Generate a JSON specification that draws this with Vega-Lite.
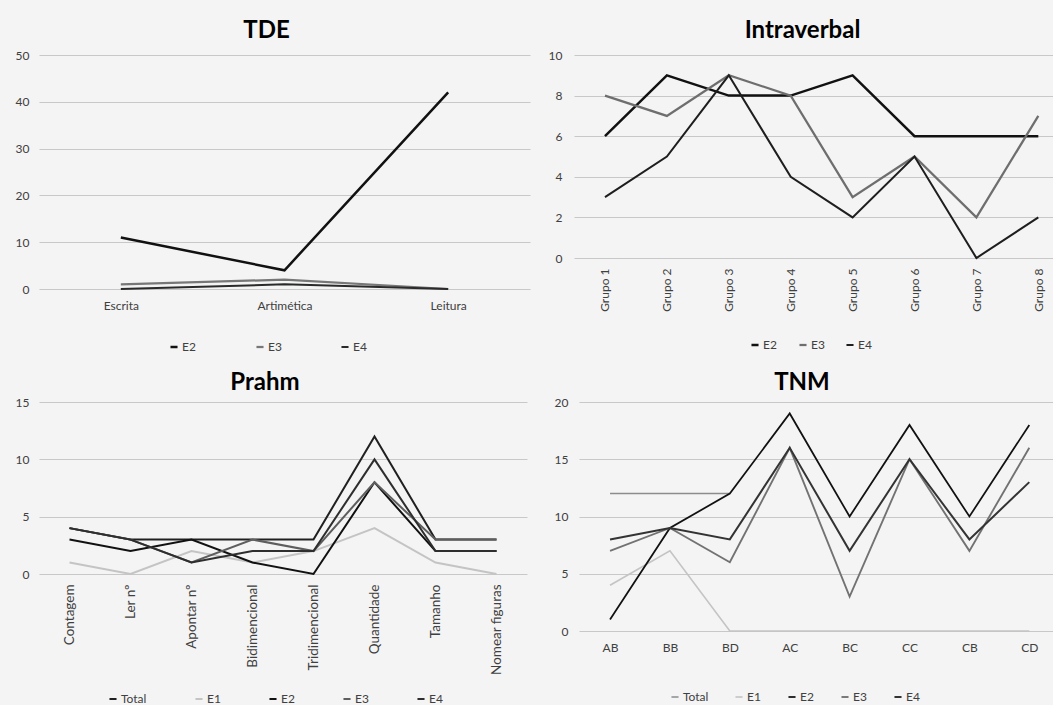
{
  "$schema": "https://vega.github.io/schema/vega-lite/v6.json",
  "background": "#f4f4f4",
  "padding": {"left": 15, "top": 19, "right": 0, "bottom": 0},
  "datasets": {
    "tde": [
      {"cat": "Escrita", "series": "E2", "value": 11},
      {"cat": "Artimética", "series": "E2", "value": 4},
      {"cat": "Leitura", "series": "E2", "value": 42},
      {"cat": "Escrita", "series": "E3", "value": 1},
      {"cat": "Artimética", "series": "E3", "value": 2},
      {"cat": "Leitura", "series": "E3", "value": 0},
      {"cat": "Escrita", "series": "E4", "value": 0},
      {"cat": "Artimética", "series": "E4", "value": 1},
      {"cat": "Leitura", "series": "E4", "value": 0}
    ],
    "intra": [
      {"cat": "Grupo 1", "series": "E2", "value": 6},
      {"cat": "Grupo 2", "series": "E2", "value": 9},
      {"cat": "Grupo 3", "series": "E2", "value": 8},
      {"cat": "Grupo 4", "series": "E2", "value": 8},
      {"cat": "Grupo 5", "series": "E2", "value": 9},
      {"cat": "Grupo 6", "series": "E2", "value": 6},
      {"cat": "Grupo 7", "series": "E2", "value": 6},
      {"cat": "Grupo 8", "series": "E2", "value": 6},
      {"cat": "Grupo 1", "series": "E3", "value": 8},
      {"cat": "Grupo 2", "series": "E3", "value": 7},
      {"cat": "Grupo 3", "series": "E3", "value": 9},
      {"cat": "Grupo 4", "series": "E3", "value": 8},
      {"cat": "Grupo 5", "series": "E3", "value": 3},
      {"cat": "Grupo 6", "series": "E3", "value": 5},
      {"cat": "Grupo 7", "series": "E3", "value": 2},
      {"cat": "Grupo 8", "series": "E3", "value": 7},
      {"cat": "Grupo 1", "series": "E4", "value": 3},
      {"cat": "Grupo 2", "series": "E4", "value": 5},
      {"cat": "Grupo 3", "series": "E4", "value": 9},
      {"cat": "Grupo 4", "series": "E4", "value": 4},
      {"cat": "Grupo 5", "series": "E4", "value": 2},
      {"cat": "Grupo 6", "series": "E4", "value": 5},
      {"cat": "Grupo 7", "series": "E4", "value": 0},
      {"cat": "Grupo 8", "series": "E4", "value": 2}
    ],
    "prahm": [
      {"cat": "Contagem", "series": "Total", "value": 4},
      {"cat": "Ler nº", "series": "Total", "value": 3},
      {"cat": "Apontar nº", "series": "Total", "value": 3},
      {"cat": "Bidimencional", "series": "Total", "value": 3},
      {"cat": "Tridimencional", "series": "Total", "value": 3},
      {"cat": "Quantidade", "series": "Total", "value": 12},
      {"cat": "Tamanho", "series": "Total", "value": 3},
      {"cat": "Nomear figuras", "series": "Total", "value": 3},
      {"cat": "Contagem", "series": "E1", "value": 1},
      {"cat": "Ler nº", "series": "E1", "value": 0},
      {"cat": "Apontar nº", "series": "E1", "value": 2},
      {"cat": "Bidimencional", "series": "E1", "value": 1},
      {"cat": "Tridimencional", "series": "E1", "value": 2},
      {"cat": "Quantidade", "series": "E1", "value": 4},
      {"cat": "Tamanho", "series": "E1", "value": 1},
      {"cat": "Nomear figuras", "series": "E1", "value": 0},
      {"cat": "Contagem", "series": "E2", "value": 3},
      {"cat": "Ler nº", "series": "E2", "value": 2},
      {"cat": "Apontar nº", "series": "E2", "value": 3},
      {"cat": "Bidimencional", "series": "E2", "value": 1},
      {"cat": "Tridimencional", "series": "E2", "value": 0},
      {"cat": "Quantidade", "series": "E2", "value": 8},
      {"cat": "Tamanho", "series": "E2", "value": 2},
      {"cat": "Nomear figuras", "series": "E2", "value": 2},
      {"cat": "Contagem", "series": "E3", "value": 4},
      {"cat": "Ler nº", "series": "E3", "value": 3},
      {"cat": "Apontar nº", "series": "E3", "value": 1},
      {"cat": "Bidimencional", "series": "E3", "value": 3},
      {"cat": "Tridimencional", "series": "E3", "value": 2},
      {"cat": "Quantidade", "series": "E3", "value": 8},
      {"cat": "Tamanho", "series": "E3", "value": 3},
      {"cat": "Nomear figuras", "series": "E3", "value": 3},
      {"cat": "Contagem", "series": "E4", "value": 4},
      {"cat": "Ler nº", "series": "E4", "value": 3},
      {"cat": "Apontar nº", "series": "E4", "value": 1},
      {"cat": "Bidimencional", "series": "E4", "value": 2},
      {"cat": "Tridimencional", "series": "E4", "value": 2},
      {"cat": "Quantidade", "series": "E4", "value": 10},
      {"cat": "Tamanho", "series": "E4", "value": 2},
      {"cat": "Nomear figuras", "series": "E4", "value": 2}
    ],
    "tnm": [
      {"cat": "AB", "series": "Total", "value": 12},
      {"cat": "BB", "series": "Total", "value": 12},
      {"cat": "BD", "series": "Total", "value": 12},
      {"cat": "AB", "series": "E1", "value": 4},
      {"cat": "BB", "series": "E1", "value": 7},
      {"cat": "BD", "series": "E1", "value": 0},
      {"cat": "AC", "series": "E1", "value": 0},
      {"cat": "BC", "series": "E1", "value": 0},
      {"cat": "CC", "series": "E1", "value": 0},
      {"cat": "CB", "series": "E1", "value": 0},
      {"cat": "CD", "series": "E1", "value": 0},
      {"cat": "AB", "series": "E2", "value": 1},
      {"cat": "BB", "series": "E2", "value": 9},
      {"cat": "BD", "series": "E2", "value": 12},
      {"cat": "AC", "series": "E2", "value": 19},
      {"cat": "BC", "series": "E2", "value": 10},
      {"cat": "CC", "series": "E2", "value": 18},
      {"cat": "CB", "series": "E2", "value": 10},
      {"cat": "CD", "series": "E2", "value": 18},
      {"cat": "AB", "series": "E3", "value": 7},
      {"cat": "BB", "series": "E3", "value": 9},
      {"cat": "BD", "series": "E3", "value": 6},
      {"cat": "AC", "series": "E3", "value": 16},
      {"cat": "BC", "series": "E3", "value": 3},
      {"cat": "CC", "series": "E3", "value": 15},
      {"cat": "CB", "series": "E3", "value": 7},
      {"cat": "CD", "series": "E3", "value": 16},
      {"cat": "AB", "series": "E4", "value": 8},
      {"cat": "BB", "series": "E4", "value": 9},
      {"cat": "BD", "series": "E4", "value": 8},
      {"cat": "AC", "series": "E4", "value": 16},
      {"cat": "BC", "series": "E4", "value": 7},
      {"cat": "CC", "series": "E4", "value": 15},
      {"cat": "CB", "series": "E4", "value": 8},
      {"cat": "CD", "series": "E4", "value": 13}
    ]
  },
  "vconcat": [
    {
      "hconcat": [
        {
          "width": 491, "height": 234,
          "title": {"text": "TDE", "dx": -18, "offset": 6},
          "data": {"name": "tde"},
          "mark": {"type": "line"},
          "encoding": {
            "x": {"field": "cat", "type": "nominal", "sort": ["Escrita", "Artimética", "Leitura"], "scale": {"type": "point", "padding": 0.5}, "axis": {"title": null, "labelAngle": 0, "labelPadding": 11}},
            "y": {"field": "value", "type": "quantitative", "scale": {"domain": [0, 50]}, "axis": {"title": null, "values": [0, 10, 20, 30, 40, 50], "labelPadding": 10}},
            "color": {"field": "series", "type": "nominal", "scale": {"domain": ["E2", "E3", "E4"], "range": ["#111111", "#777777", "#2a2a2a"]},
              "legend": {"orient": "none", "legendX": 129, "legendY": 286, "direction": "horizontal", "title": null, "columnPadding": 55}},
            "strokeWidth": {"field": "series", "type": "nominal", "scale": {"domain": ["E2", "E3", "E4"], "range": [2.5, 2, 2]}, "legend": null}
          }
        },
        {
          "width": 481, "height": 203,
          "title": {"text": "Intraverbal", "dx": -12, "offset": 6},
          "data": {"name": "intra"},
          "mark": {"type": "line"},
          "encoding": {
            "x": {"field": "cat", "type": "nominal", "sort": ["Grupo 1", "Grupo 2", "Grupo 3", "Grupo 4", "Grupo 5", "Grupo 6", "Grupo 7", "Grupo 8"], "scale": {"type": "point", "padding": 0.385, "align": 0.65}, "axis": {"title": null, "labelAngle": -90, "labelPadding": 10}},
            "y": {"field": "value", "type": "quantitative", "scale": {"domain": [0, 10]}, "axis": {"title": null, "values": [0, 2, 4, 6, 8, 10], "labelPadding": 12}},
            "color": {"field": "series", "type": "nominal", "scale": {"domain": ["E2", "E3", "E4"], "range": ["#111111", "#6e6e6e", "#1e1e1e"]},
              "legend": {"orient": "none", "legendX": 175, "legendY": 284, "direction": "horizontal", "title": null, "columnPadding": 17}},
            "strokeWidth": {"field": "series", "type": "nominal", "scale": {"domain": ["E2", "E3", "E4"], "range": [2.5, 2, 2]}, "legend": null}
          }
        }
      ],
      "spacing": 18,
      "resolve": {"scale": {"color": "independent", "strokeWidth": "independent"}, "legend": {"color": "independent", "strokeWidth": "independent"}}
    },
    {
      "hconcat": [
        {
          "width": 488, "height": 172,
          "title": {"text": "Prahm", "dx": -18, "offset": 1},
          "data": {"name": "prahm"},
          "mark": {"type": "line"},
          "encoding": {
            "x": {"field": "cat", "type": "nominal", "sort": ["Contagem", "Ler nº", "Apontar nº", "Bidimencional", "Tridimencional", "Quantidade", "Tamanho", "Nomear figuras"], "scale": {"type": "point", "padding": 0.5}, "axis": {"title": null, "labelAngle": -90, "labelPadding": 10, "labelFontSize": 13.5}},
            "y": {"field": "value", "type": "quantitative", "scale": {"domain": [0, 15]}, "axis": {"title": null, "values": [0, 5, 10, 15], "labelPadding": 10}},
            "color": {"field": "series", "type": "nominal", "scale": {"domain": ["Total", "E1", "E2", "E3", "E4"], "range": ["#202020", "#c4c4c4", "#111111", "#5e5e5e", "#2e2e2e"]},
              "legend": {"orient": "none", "legendX": 68, "legendY": 291, "direction": "horizontal", "title": null, "columnPadding": 44}},
            "strokeWidth": {"field": "series", "type": "nominal", "scale": {"domain": ["Total", "E1", "E2", "E3", "E4"], "range": [2, 2, 2.5, 2, 2]}, "legend": null}
          }
        },
        {
          "width": 474, "height": 229,
          "title": {"text": "TNM", "dx": -14, "offset": 1},
          "data": {"name": "tnm"},
          "mark": {"type": "line"},
          "encoding": {
            "x": {"field": "cat", "type": "nominal", "sort": ["AB", "BB", "BD", "AC", "BC", "CC", "CB", "CD"], "scale": {"type": "point", "padding": 0.457, "align": 0.567}, "axis": {"title": null, "labelAngle": 0, "labelPadding": 11}},
            "y": {"field": "value", "type": "quantitative", "scale": {"domain": [0, 20]}, "axis": {"title": null, "values": [0, 5, 10, 15, 20], "labelPadding": 11}},
            "color": {"field": "series", "type": "nominal", "scale": {"domain": ["Total", "E1", "E2", "E3", "E4"], "range": ["#8c8c8c", "#c4c4c4", "#111111", "#727272", "#333333"]},
              "legend": {"orient": "none", "legendX": 90, "legendY": 289, "direction": "horizontal", "title": null, "columnPadding": 23}},
            "strokeWidth": {"field": "series", "type": "nominal", "scale": {"domain": ["Total", "E1", "E2", "E3", "E4"], "range": [1.5, 2, 2.5, 2, 2]}, "legend": null}
          }
        }
      ],
      "spacing": 27,
      "resolve": {"scale": {"color": "independent", "strokeWidth": "independent"}, "legend": {"color": "independent", "strokeWidth": "independent"}}
    }
  ],
  "spacing": 18,
  "resolve": {"scale": {"color": "independent", "strokeWidth": "independent"}, "legend": {"color": "independent", "strokeWidth": "independent"}},
  "config": {
    "font": "Lato",
    "view": {"stroke": null},
    "title": {"font": "Lato", "fontSize": 24, "fontWeight": "bold", "color": "#000000", "anchor": "middle", "baseline": "alphabetic"},
    "axis": {"domain": false, "ticks": false, "labelFont": "Lato", "labelFontSize": 12, "labelColor": "#404040", "gridColor": "#c8c8c8", "gridWidth": 1.2},
    "axisX": {"grid": false},
    "legend": {"symbolType": "stroke", "symbolSize": 50, "symbolStrokeWidth": 2, "labelFont": "Lato", "labelFontSize": 12, "labelColor": "#404040", "labelOffset": 2, "padding": 0},
    "line": {"strokeJoin": "miter"}
  }
}
